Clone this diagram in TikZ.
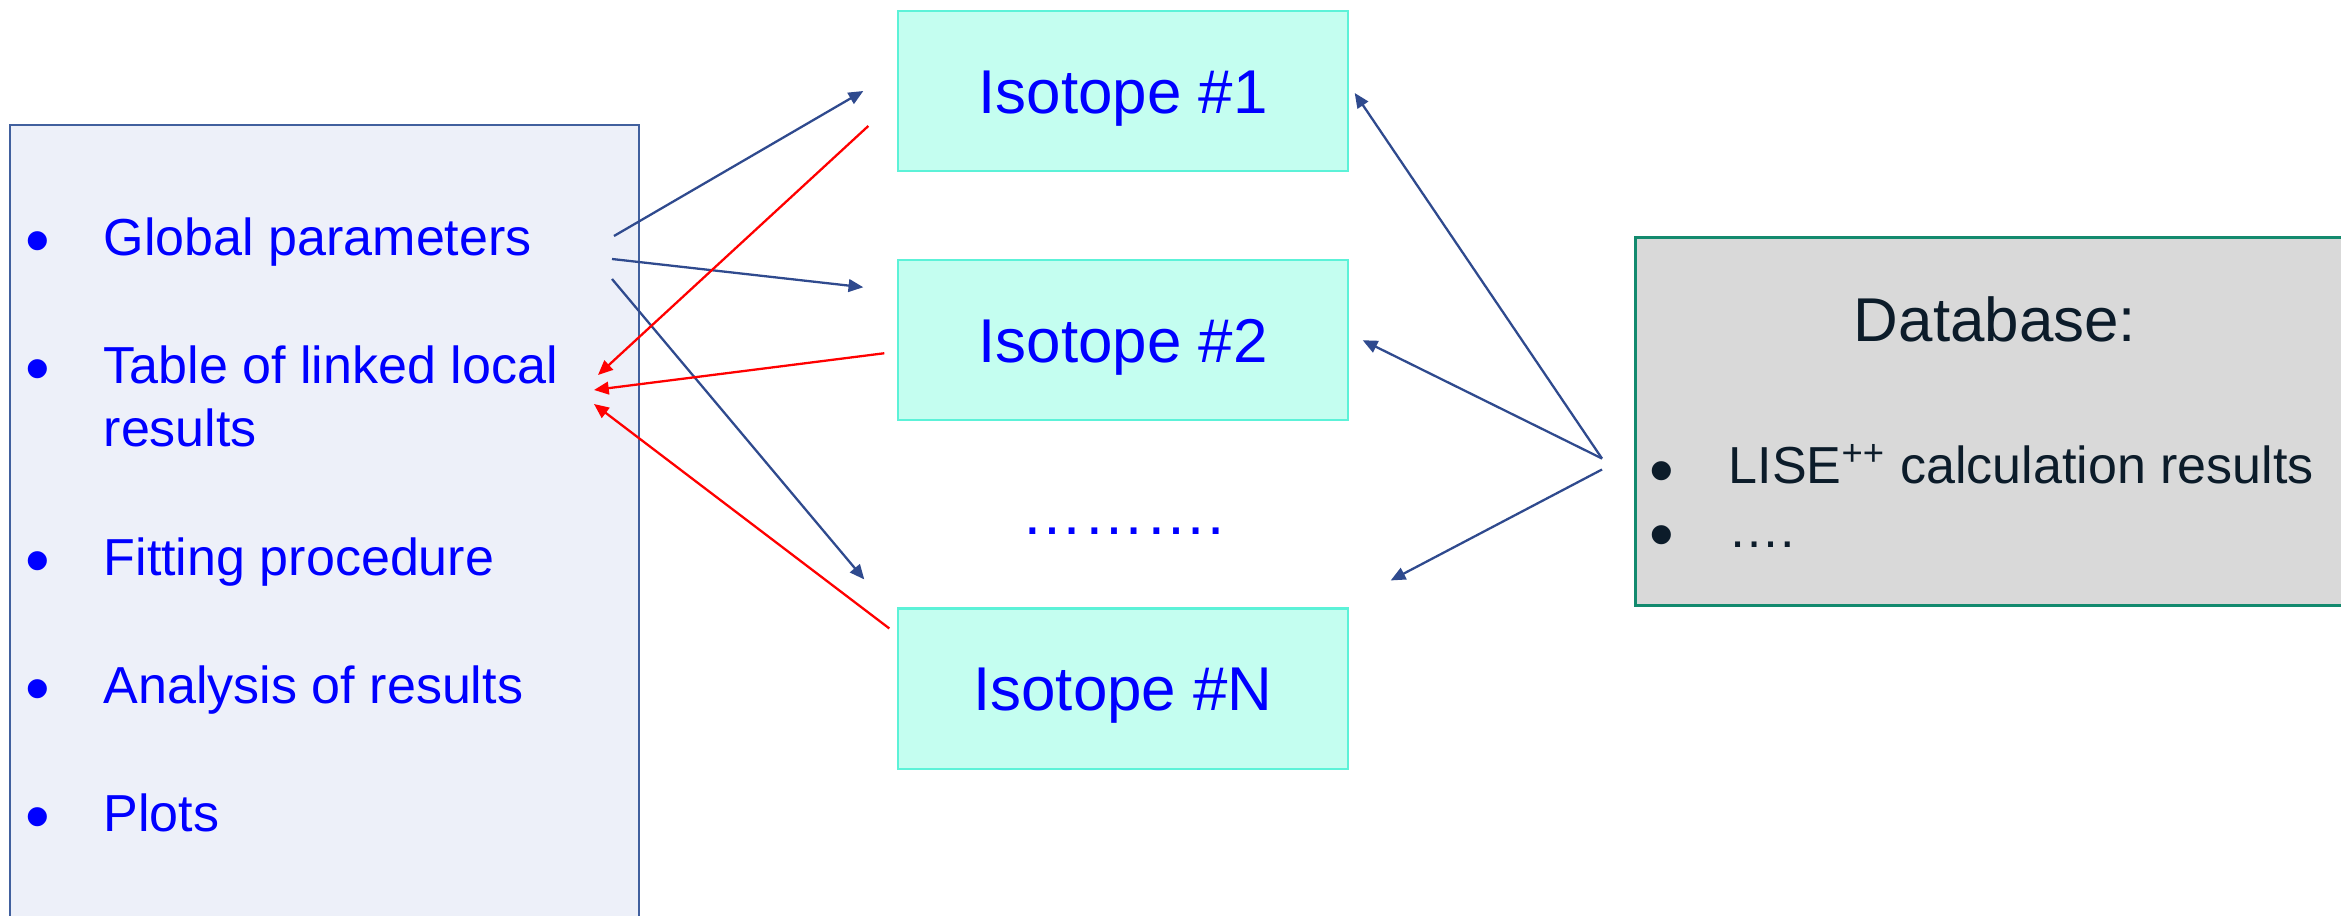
\documentclass[tikz,border=0pt]{standalone}
\usepackage{fontspec}
\setmainfont{Liberation Sans}
\usetikzlibrary{positioning,arrows.meta}

\definecolor{panel}{HTML}{EDF0F9}
\definecolor{panelline}{HTML}{41609E}
\definecolor{isofill}{HTML}{C4FEF0}
\definecolor{isoline}{HTML}{5CF2D8}
\definecolor{dbfill}{HTML}{D9D9D9}
\definecolor{dbline}{HTML}{138A6E}
\definecolor{dbtext}{HTML}{0C1C2A}
\definecolor{linkblue}{HTML}{2F4A8E}
\definecolor{itemblue}{HTML}{0000FF}

\tikzset{
  isobox/.style={draw=isoline, fill=isofill, line width=0.6pt,
    minimum width=4.49cm, minimum height=1.6cm,
    text height=12.6pt, text depth=0pt,
    font=\fontsize{17.6}{21}\selectfont, text=itemblue},
  item/.style={anchor=north west, inner sep=0, align=left,
    font=\fontsize{14.8}{17.9}\selectfont, text=itemblue},
  dot/.style={anchor=base, inner sep=0, font=\fontsize{20}{20}\selectfont},
  feed/.style={-{Triangle[length=4.2pt,width=3.6pt]}, linkblue, line width=0.65pt},
  back/.style={-{Triangle[length=4.2pt,width=3.6pt]}, red, line width=0.65pt}
}

\begin{document}
\begin{tikzpicture}[x=0.01cm,y=-0.01cm]
\useasboundingbox (0,0) rectangle (2341,916);

% Steering panel on the left
\node[draw=panelline, fill=panel, line width=0.5pt, anchor=north west,
    minimum width=6.29cm, minimum height=9cm] (panel) at (9,124) {};

\node[item] (glob) at (103,217) {Global parameters};
\node[item] (table) at (103,345) {Table of linked local\\results};
\node[item] (fit) at (103,537) {Fitting procedure};
\node[item] (anal) at (103,665) {Analysis of results};
\node[item] (plots) at (103,793) {Plots};

\node[dot, text=itemblue] (b1) at (38,265) {•};
\node[dot, text=itemblue] (b2) at (38,393) {•};
\node[dot, text=itemblue] (b3) at (38,585) {•};
\node[dot, text=itemblue] (b4) at (38,713) {•};
\node[dot, text=itemblue] (b5) at (38,841) {•};

% Isotope blocks
\node[isobox] (iso1) at (1123,91) {Isotope \#1};
\node[isobox, below=0.87cm of iso1] (iso2) {Isotope \#2};
\node[isobox, below=1.86cm of iso2] (isoN) {Isotope \#N};
\node[anchor=base, inner sep=0, text=itemblue,
    font=\fontsize{17.6}{21}\selectfont] (more) at (1123,535) {……….};

% Database
\node[draw=dbline, fill=dbfill, line width=0.8pt, anchor=north west,
    minimum width=7.22cm, minimum height=3.68cm] (db) at (1634,236) {};
\node[anchor=base, inner sep=0, text=dbtext,
    font=\fontsize{17.6}{21}\selectfont] (dbtitle) at (1995,342) {Database:};
\node[anchor=base west, inner sep=0, text=dbtext,
    font=\fontsize{14.8}{17.9}\selectfont] (lise) at (1728,484)
    {LISE\textsuperscript{++} calculation results};
\node[anchor=base west, inner sep=0, text=dbtext,
    font=\fontsize{14.8}{17.9}\selectfont] (etc) at (1728,548) {….};
\node[dot, text=dbtext] (b6) at (1662,495) {•};
\node[dot, text=dbtext] (b7) at (1662,559) {•};

% loose ends next to the panel
\coordinate (out1) at (614,236);
\coordinate (out2) at (612,259);
\coordinate (out3) at (612,279);
\coordinate (in1) at (598,375);
\coordinate (in2) at (594,390);
\coordinate (in3) at (594,404);
\coordinate (dbout1) at ([shift={(-32,37)}]db.west);
\coordinate (dbout2) at ([shift={(-32,48)}]db.west);

% Arrows
\draw[feed] (out1) -- ([shift={(-34,0)}]iso1.west);
\draw[feed] (out2) -- ([shift={(-34,-53)}]iso2.west);
\draw[feed] (out3) -- ([shift={(-33,-28)}]isoN.north west);
\draw[back] ([shift={(-29,35)}]iso1.west) -- (in1);
\draw[back] ([shift={(-13,13)}]iso2.west) -- (in2);
\draw[back] ([shift={(-8,21)}]isoN.north west) -- (in3);
\draw[feed] (dbout1) -- ([shift={(6,2)}]iso1.east);
\draw[feed] (dbout1) -- ([shift={(14,0)}]iso2.east);
\draw[feed] (dbout2) -- ([shift={(42,-27)}]isoN.north east);

\end{tikzpicture}
\end{document}
